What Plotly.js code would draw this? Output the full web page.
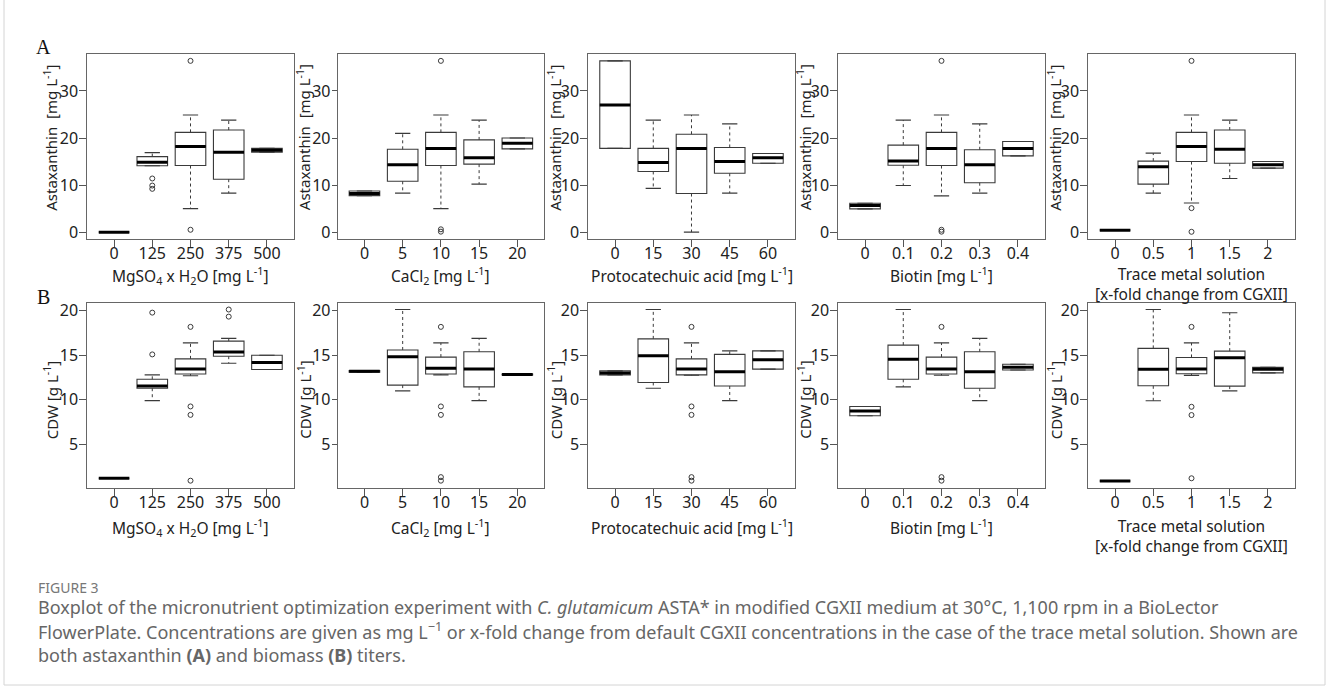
<!DOCTYPE html>
<html>
<head>
<meta charset="utf-8">
<script src="https://cdn.plot.ly/plotly-3.0.1.min.js"></script>
<style>html,body{margin:0;padding:0;background:#fff;}#chart{width:1328px;height:688px;}</style>
</head>
<body>
<div id="chart"></div>
<script>
// ---------- categories ----------
const magCats = ["0", "125", "250", "375", "500"];
const caCats  = ["0", "5", "10", "15", "20"];
const pcaCats = ["0", "15", "30", "45", "60"];
const bioCats = ["0", "0.1", "0.2", "0.3", "0.4"];
const tmCats  = ["0", "0.5", "1", "1.5", "2"];

// ---------- (A) Astaxanthin [mg/L] ----------
const astaMgQ1  = [0, 14.1, 14.15, 11.25, 17.0];
const astaMgMed = [0, 14.85, 18.2, 17.0, 17.4];
const astaMgQ3  = [0, 16.05, 21.2, 21.7, 17.8];
const astaMgLo  = [0, 14.1, 5.0, 8.3, 17.0];
const astaMgHi  = [0, 16.9, 24.9, 23.8, 17.8];
const astaMgOut = [[], [11.4, 9.9, 9.2], [36.4, 0.5], [], []];

const astaCaQ1  = [7.75, 10.8, 14.15, 14.45, 17.7];
const astaCaMed = [8.2, 14.3, 17.8, 15.8, 18.9];
const astaCaQ3  = [8.75, 17.6, 21.2, 19.6, 20.0];
const astaCaLo  = [7.75, 8.3, 5.0, 10.2, 17.7];
const astaCaHi  = [8.75, 21.0, 24.9, 23.8, 20.0];
const astaCaOut = [[], [], [36.4, 0.6, 0.1], [], []];

const astaPcaQ1  = [17.8, 12.9, 8.2, 12.5, 14.65];
const astaPcaMed = [27.0, 14.8, 17.8, 15.0, 15.8];
const astaPcaQ3  = [36.4, 17.8, 20.8, 18.0, 16.7];
const astaPcaLo  = [17.8, 9.3, 0.0, 8.3, 14.65];
const astaPcaHi  = [36.4, 23.8, 24.9, 23.0, 16.7];
const astaPcaOut = [[], [], [], [], []];

const astaBioQ1  = [4.95, 14.2, 14.15, 10.5, 16.2];
const astaBioMed = [5.65, 15.1, 17.8, 14.3, 17.8];
const astaBioQ3  = [6.15, 18.5, 21.2, 17.5, 19.25];
const astaBioLo  = [4.95, 9.9, 7.7, 8.3, 16.2];
const astaBioHi  = [6.15, 23.8, 24.9, 23.0, 19.25];
const astaBioOut = [[], [], [36.4, 0.5, 0.1], [], []];

const astaTmQ1  = [0.42, 10.2, 15.0, 14.65, 13.6];
const astaTmMed = [0.42, 13.9, 18.2, 17.6, 14.3];
const astaTmQ3  = [0.42, 15.1, 21.2, 21.7, 15.0];
const astaTmLo  = [0.42, 8.3, 6.2, 11.4, 13.6];
const astaTmHi  = [0.42, 16.8, 24.9, 23.8, 15.0];
const astaTmOut = [[], [], [36.4, 5.1, 0.07], [], []];

// ---------- (B) CDW [g/L] ----------
const cdwMgQ1  = [1.17, 11.3, 12.9, 14.9, 13.4];
const cdwMgMed = [1.17, 11.55, 13.46, 15.36, 14.2];
const cdwMgQ3  = [1.17, 12.3, 14.6, 16.6, 15.0];
const cdwMgLo  = [1.17, 9.9, 12.7, 14.1, 13.4];
const cdwMgHi  = [1.17, 12.8, 16.4, 16.9, 15.0];
const cdwMgOut = [[], [19.8, 15.1], [18.2, 9.25, 8.3, 0.9], [20.15, 19.35], []];

const cdwCaQ1  = [13.1, 11.65, 12.9, 11.45, 12.8];
const cdwCaMed = [13.2, 14.85, 13.55, 13.45, 12.85];
const cdwCaQ3  = [13.3, 15.6, 14.8, 15.4, 12.9];
const cdwCaLo  = [13.1, 11.0, 12.8, 9.9, 12.8];
const cdwCaHi  = [13.3, 20.15, 16.4, 16.9, 12.9];
const cdwCaOut = [[], [], [18.2, 9.25, 8.3, 1.3, 0.9], [], []];

const cdwPcaQ1  = [12.8, 11.95, 12.8, 11.55, 13.45];
const cdwPcaMed = [13.0, 14.95, 13.45, 13.15, 14.5];
const cdwPcaQ3  = [13.25, 16.85, 14.6, 15.1, 15.5];
const cdwPcaLo  = [12.8, 11.3, 12.75, 9.9, 13.45];
const cdwPcaHi  = [13.25, 20.15, 16.4, 15.5, 15.5];
const cdwPcaOut = [[], [], [18.2, 9.25, 8.3, 1.3, 0.9], [], []];

const cdwBioQ1  = [8.2, 12.3, 12.9, 11.3, 13.35];
const cdwBioMed = [8.75, 14.55, 13.45, 13.15, 13.65];
const cdwBioQ3  = [9.25, 16.15, 14.8, 15.4, 14.0];
const cdwBioLo  = [8.2, 11.45, 12.75, 9.9, 13.35];
const cdwBioHi  = [9.25, 20.15, 16.4, 16.9, 14.0];
const cdwBioOut = [[], [], [18.2, 1.3, 0.9], [], []];

const cdwTmQ1  = [0.87, 11.57, 12.92, 11.54, 13.03];
const cdwTmMed = [0.87, 13.42, 13.46, 14.72, 13.42];
const cdwTmQ3  = [0.87, 15.78, 14.76, 15.47, 13.64];
const cdwTmLo  = [0.87, 9.89, 12.74, 11.0, 13.03];
const cdwTmHi  = [0.87, 20.15, 16.4, 19.78, 13.64];
const cdwTmOut = [[], [], [18.2, 9.21, 8.28, 1.17], [], []];

// ---------- axis texts ----------
const yTitleTop = "Astaxanthin  [mg L<sup>-1</sup>]";
const yTitleBot = "CDW [g L<sup>-1</sup>]";
const xTitles = [
  "MgSO<sub>4</sub> x H<sub>2</sub>O [mg L<sup>-1</sup>]",
  "CaCl<sub>2</sub> [mg L<sup>-1</sup>]",
  "Protocatechuic acid [mg L<sup>-1</sup>]",
  "Biotin [mg L<sup>-1</sup>]",
  "Trace metal solution<br>[x-fold change from CGXII]"
];
const yTicksTop = [0, 10, 20, 30];
const yTicksBot = [5, 10, 15, 20];

// ---------- build ----------
const W = 1328, H = 688;
const px = v => v / W;
const py = v => 1 - v / H;
const colX = [[87.3, 293.7], [337.7, 544.1], [588.3, 794.7], [838.3, 1044.7], [1088.3, 1294.7]];
const rowY = [[54, 239], [303.3, 487.7]];
const yRanges = [[-1.46, 37.86], [0.11, 20.85]];
const yTickLen = [7, 5, 7, 7, 7];
const yTitleOffset = [37, 34, 34, 34.5, 34];     // px left of frame (title centre)
const yTitleCentre = [137.5, 400];               // px, per row
const xTitleCentre = [271, 523];                 // px, first line centre per row

const panels = [
  [magCats, astaMgQ1, astaMgMed, astaMgQ3, astaMgLo, astaMgHi, astaMgOut],
  [caCats, astaCaQ1, astaCaMed, astaCaQ3, astaCaLo, astaCaHi, astaCaOut],
  [pcaCats, astaPcaQ1, astaPcaMed, astaPcaQ3, astaPcaLo, astaPcaHi, astaPcaOut],
  [bioCats, astaBioQ1, astaBioMed, astaBioQ3, astaBioLo, astaBioHi, astaBioOut],
  [tmCats, astaTmQ1, astaTmMed, astaTmQ3, astaTmLo, astaTmHi, astaTmOut],
  [magCats, cdwMgQ1, cdwMgMed, cdwMgQ3, cdwMgLo, cdwMgHi, cdwMgOut],
  [caCats, cdwCaQ1, cdwCaMed, cdwCaQ3, cdwCaLo, cdwCaHi, cdwCaOut],
  [pcaCats, cdwPcaQ1, cdwPcaMed, cdwPcaQ3, cdwPcaLo, cdwPcaHi, cdwPcaOut],
  [bioCats, cdwBioQ1, cdwBioMed, cdwBioQ3, cdwBioLo, cdwBioHi, cdwBioOut],
  [tmCats, cdwTmQ1, cdwTmMed, cdwTmQ3, cdwTmLo, cdwTmHi, cdwTmOut]
];

const FONT = "Noto Sans, Open Sans, sans-serif";
const INK = "#222";
const LINE = "#3a3a3a";
const traces = [];
const layout = {
  width: W, height: H,
  margin: {l: 0, r: 0, t: 0, b: 0},
  paper_bgcolor: "#fff", plot_bgcolor: "#fff",
  showlegend: false,
  font: {family: FONT, color: INK, size: 14},
  annotations: [], shapes: []
};

panels.forEach((p, k) => {
  const [cats, q1, med, q3, lo, hi, out] = p;
  const n = k + 1;
  const sfx = n === 1 ? "" : String(n);
  const xa = "x" + sfx, ya = "y" + sfx;
  const row = k < 5 ? 0 : 1, col = k % 5;
  const pos = cats.map((c, i) => i + 1);

  traces.push({
    type: "box", x: pos, q1: q1, median: med, q3: q3,
    lowerfence: q1, upperfence: q3, width: 0.8, whiskerwidth: 0,
    fillcolor: "#ffffff", line: {color: LINE, width: 1.1},
    boxpoints: false, hoverinfo: "skip", xaxis: xa, yaxis: ya
  });

  const wx = [], wy = [], cx = [], cy = [], mx = [], my = [], ox = [], oy = [];
  pos.forEach((x, i) => {
    if (hi[i] > q3[i]) { wx.push(x, x, null); wy.push(q3[i], hi[i], null); }
    if (lo[i] < q1[i]) { wx.push(x, x, null); wy.push(q1[i], lo[i], null); }
    cx.push(x - 0.2, x + 0.2, null); cy.push(hi[i], hi[i], null);
    cx.push(x - 0.2, x + 0.2, null); cy.push(lo[i], lo[i], null);
    mx.push(x - 0.4, x + 0.4, null); my.push(med[i], med[i], null);
    out[i].forEach(v => { ox.push(x); oy.push(v); });
  });
  traces.push({type: "scatter", mode: "lines", x: wx, y: wy, xaxis: xa, yaxis: ya,
    line: {color: LINE, width: 1, dash: "3px,3px"}, hoverinfo: "skip"});
  traces.push({type: "scatter", mode: "lines", x: cx, y: cy, xaxis: xa, yaxis: ya,
    line: {color: LINE, width: 1.1}, hoverinfo: "skip"});
  traces.push({type: "scatter", mode: "lines", x: mx, y: my, xaxis: xa, yaxis: ya,
    line: {color: "#000", width: 3}, hoverinfo: "skip"});
  traces.push({type: "scatter", mode: "markers", x: ox, y: oy, xaxis: xa, yaxis: ya,
    marker: {symbol: "circle-open", size: 5, color: LINE, line: {width: 1, color: LINE}}, hoverinfo: "skip"});

  const xd = colX[col], yd = rowY[row];
  layout["xaxis" + sfx] = {
    domain: [px(xd[0]), px(xd[1])], anchor: ya, range: [0.3, 5.7],
    tickmode: "array", tickvals: pos, ticktext: cats,
    showline: true, mirror: true, linecolor: "#666", linewidth: 1,
    ticks: "outside", ticklen: 7, tickcolor: "#555", tickwidth: 1,
    ticklabelstandoff: -7,
    showgrid: false, zeroline: false, fixedrange: true,
    tickfont: {family: FONT, size: 16, color: INK}
  };
  layout["yaxis" + sfx] = {
    domain: [py(yd[1]), py(yd[0])], anchor: xa, range: yRanges[row],
    tickmode: "array", tickvals: row === 0 ? yTicksTop : yTicksBot,
    showline: true, mirror: true, linecolor: "#666", linewidth: 1,
    ticks: "outside", ticklen: yTickLen[col], tickcolor: "#555", tickwidth: 1,
    ticklabelstandoff: -2,
    showgrid: false, zeroline: false, fixedrange: true,
    tickfont: {family: FONT, size: 16, color: INK}
  };

  // axis titles (placed as annotations for exact positioning)
  layout.annotations.push({
    text: xTitles[col], xref: "paper", yref: "paper",
    x: px((xd[0] + xd[1]) / 2), y: py(xTitleCentre[row]),
    xanchor: "center", yanchor: "top", yshift: 10, showarrow: false, align: "center",
    font: {family: FONT, size: 15.5, color: INK}
  });
  layout.annotations.push({
    text: row === 0 ? yTitleTop : yTitleBot, xref: "paper", yref: "paper",
    x: px(xd[0] - yTitleOffset[col]), y: py(yTitleCentre[row]), textangle: -90,
    xanchor: "center", yanchor: "middle", showarrow: false,
    font: {family: FONT, size: 15, color: INK}
  });
});

// panel letters
layout.annotations.push(
  {text: "A", xref: "paper", yref: "paper", x: px(43), y: py(47), xanchor: "center", yanchor: "middle", showarrow: false,
   font: {family: "Liberation Serif, serif", size: 20, color: "#111"}},
  {text: "B", xref: "paper", yref: "paper", x: px(43), y: py(297), xanchor: "center", yanchor: "middle", showarrow: false,
   font: {family: "Liberation Serif, serif", size: 20, color: "#111"}}
);

// caption
const capLines = [
  "Boxplot of the micronutrient optimization experiment with <i>C. glutamicum</i> ASTA* in modified CGXII medium at 30°C, 1,100 rpm in a BioLector",
  "FlowerPlate. Concentrations are given as mg L<sup>−1</sup> or x-fold change from default CGXII concentrations in the case of the trace metal solution. Shown are",
  "both astaxanthin <b>(A)</b> and biomass <b>(B)</b> titers."
];
const capY = [607, 631, 655];
layout.annotations.push({text: "FIGURE 3", xref: "paper", yref: "paper", x: px(36), y: py(587),
  xanchor: "left", yanchor: "middle", showarrow: false, font: {family: FONT, size: 14, color: "#777"}});
capLines.forEach((t, i) => layout.annotations.push({text: t, xref: "paper", yref: "paper",
  x: px(36), y: py(capY[i]), xanchor: "left", yanchor: "middle", showarrow: false,
  font: {family: FONT, size: 18, color: "#666"}}));

// outer figure frame
layout.shapes.push({type: "rect", xref: "paper", yref: "paper", x0: px(4), x1: px(1325), y0: py(685), y1: py(-5),
  line: {color: "#d4d4d4", width: 1}, fillcolor: "rgba(0,0,0,0)", layer: "below"});

Plotly.newPlot("chart", traces, layout, {displayModeBar: false, staticPlot: true});
</script>
</body>
</html>
